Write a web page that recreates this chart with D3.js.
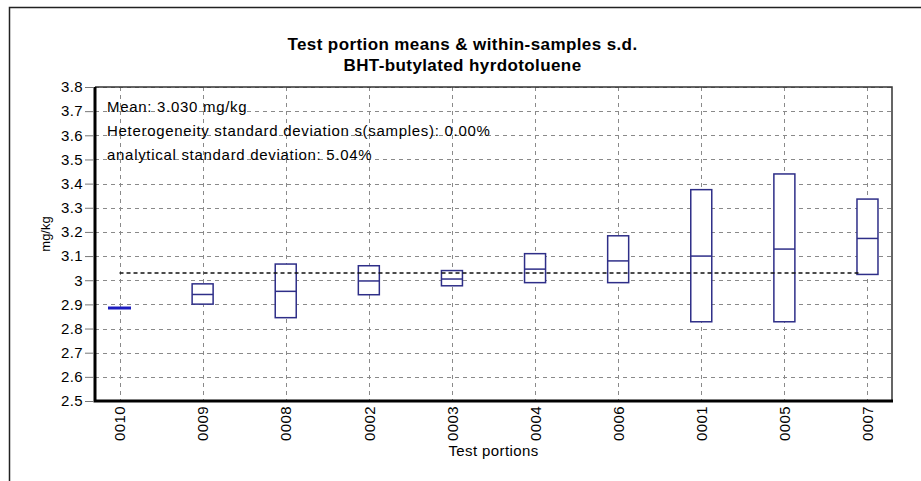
<!DOCTYPE html>
<html>
<head>
<meta charset="utf-8">
<script src="https://cdn.jsdelivr.net/npm/d3@7"></script>
<style>
    body { margin: 0; background: #fff; }
    svg { display: block; font-family: "Liberation Sans", Arial, sans-serif; }
</style>
</head>
<body>
<svg id="chart"></svg>
<script>
// Test portions, in plotting order
var portions = ["0010", "0009", "0008", "0002", "0003", "0004", "0006", "0001", "0005", "0007"];
var means = [2.885, 2.941, 2.954, 2.997, 3.005, 3.046, 3.080, 3.100, 3.129, 3.173];
var lows  = [2.885, 2.901, 2.845, 2.940, 2.977, 2.990, 2.990, 2.828, 2.828, 3.024];
var highs = [2.885, 2.985, 3.067, 3.060, 3.040, 3.110, 3.184, 3.375, 3.440, 3.336];
var overallMean = 3.030;
var yTicks = [2.5, 2.6, 2.7, 2.8, 2.9, 3.0, 3.1, 3.2, 3.3, 3.4, 3.5, 3.6, 3.7, 3.8];
var notes = ["Mean: 3.030 mg/kg",
             "Heterogeneity standard deviation s(samples): 0.00%",
             "analytical standard deviation: 5.04%"];

const width = 921;
const height = 481;
const marginLeft = 95;
const marginRight = 29;
const marginTop = 87;
const marginBottom = 80;
const boxW = 21;

const x = d3.scalePoint(portions, [marginLeft, width - marginRight]).padding(0.295);
const y = d3.scaleLinear([2.5, 3.8], [height - marginBottom, marginTop]);

var svg = d3.select("#chart")
    .attr("width", width)
    .attr("height", height)
    .attr("viewBox", [0, 0, width, height]);

// outer frame (only top and left visible)
svg.append("path")
    .attr("d", "M9.5," + height + "V7.5H" + width)
    .attr("fill", "none")
    .attr("stroke", "#222")
    .attr("stroke-width", 1.5);

// titles
svg.append("text")
    .attr("x", 462.5).attr("y", 50)
    .attr("text-anchor", "middle")
    .attr("font-size", 17).attr("font-weight", "bold")
    .attr("letter-spacing", 0.4)
    .text("Test portion means & within-samples s.d.");
svg.append("text")
    .attr("x", 462.5).attr("y", 71)
    .attr("text-anchor", "middle")
    .attr("font-size", 17).attr("font-weight", "bold")
    .attr("letter-spacing", 0.4)
    .text("BHT-butylated hyrdotoluene");

// grid
svg.append("g")
    .selectAll("line")
    .data(yTicks)
    .join("line")
    .attr("x1", marginLeft).attr("x2", width - marginRight)
    .attr("y1", d => Math.round(y(d)) + 0.5).attr("y2", d => Math.round(y(d)) + 0.5)
    .attr("stroke", "#8a8a8a")
    .attr("stroke-dasharray", "4,4");
svg.append("g")
    .selectAll("line")
    .data(portions)
    .join("line")
    .attr("x1", d => Math.round(x(d)) + 0.5).attr("x2", d => Math.round(x(d)) + 0.5)
    .attr("y1", marginTop).attr("y2", height - marginBottom)
    .attr("stroke", "#8a8a8a")
    .attr("stroke-dasharray", "4,4");

// notes
svg.append("g")
    .selectAll("text")
    .data(notes)
    .join("text")
    .attr("x", 107)
    .attr("y", (d, i) => 112 + i * 24)
    .attr("font-size", 15)
    .attr("letter-spacing", 0.7)
    .text(d => d);

// boxes
var data = portions.map(function(p, i) {
    return { p: p, mean: means[i], low: lows[i], high: highs[i] };
});
var boxes = svg.append("g");
data.forEach(function(d) {
    var cx = x(d.p);
    if (d.high - d.low < 0.005) {
        boxes.append("line")
            .attr("x1", cx - boxW / 2 - 1).attr("x2", cx + boxW / 2 + 1)
            .attr("y1", y(d.mean)).attr("y2", y(d.mean))
            .attr("stroke", "#1c1cc0")
            .attr("stroke-width", 3);
        return;
    }
    boxes.append("rect")
        .attr("x", cx - boxW / 2)
        .attr("y", y(d.high))
        .attr("width", boxW)
        .attr("height", y(d.low) - y(d.high))
        .attr("fill", "#fff")
        .attr("stroke", "#2e2e88")
        .attr("stroke-width", 1.5);
    boxes.append("line")
        .attr("x1", cx - boxW / 2).attr("x2", cx + boxW / 2)
        .attr("y1", y(d.mean)).attr("y2", y(d.mean))
        .attr("stroke", "#2e2e88")
        .attr("stroke-width", 1.5);
});

// overall mean
svg.append("line")
    .attr("x1", x(portions[0]))
    .attr("x2", x(portions[portions.length - 1]) - boxW / 2 + 3)
    .attr("y1", y(overallMean)).attr("y2", y(overallMean))
    .attr("stroke", "#111")
    .attr("stroke-width", 1.6)
    .attr("stroke-dasharray", "4,3");

// plot border: thin top/right, heavy left/bottom
svg.append("path")
    .attr("d", "M" + marginLeft + "," + marginTop + "H" + (width - marginRight) + "V" + (height - marginBottom))
    .attr("fill", "none")
    .attr("stroke", "#333")
    .attr("stroke-width", 1.5);
svg.append("path")
    .attr("d", "M" + marginLeft + "," + marginTop + "V" + (height - marginBottom) + "H" + (width - marginRight + 1))
    .attr("fill", "none")
    .attr("stroke", "#000")
    .attr("stroke-width", 3);

// y axis
svg.append("g")
    .attr("transform", "translate(" + (marginLeft - 1) + ",0)")
    .call(d3.axisLeft(y).tickValues(yTicks).tickSize(9).tickPadding(2)
        .tickFormat(d => d3.format("")(+d.toFixed(1))))
    .call(g => g.select(".domain").remove())
    .call(g => g.selectAll(".tick line").attr("stroke", "#777"))
    .call(g => g.selectAll("text").attr("font-size", 15).attr("fill", "#000")
        .attr("letter-spacing", 0.4)
        .attr("font-family", "Liberation Sans, Arial, sans-serif"));

// x axis
svg.append("g")
    .attr("transform", "translate(0," + (height - marginBottom) + ")")
    .call(d3.axisBottom(x).tickSize(0))
    .call(g => g.select(".domain").remove())
    .call(g => g.selectAll("text")
        .attr("font-size", 15).attr("fill", "#000")
        .attr("letter-spacing", 0.4)
        .attr("font-family", "Liberation Sans, Arial, sans-serif")
        .attr("transform", "rotate(-90)")
        .attr("text-anchor", "end")
        .attr("x", -5).attr("y", 0).attr("dy", "0.35em"));

// axis titles
svg.append("text")
    .attr("x", (marginLeft + width - marginRight) / 2)
    .attr("y", 456)
    .attr("text-anchor", "middle")
    .attr("font-size", 15)
    .attr("letter-spacing", 0.4)
    .text("Test portions");
svg.append("text")
    .attr("transform", "translate(50,234) rotate(-90)")
    .attr("text-anchor", "middle")
    .attr("font-size", 13)
    .text("mg/kg");
</script>
</body>
</html>
